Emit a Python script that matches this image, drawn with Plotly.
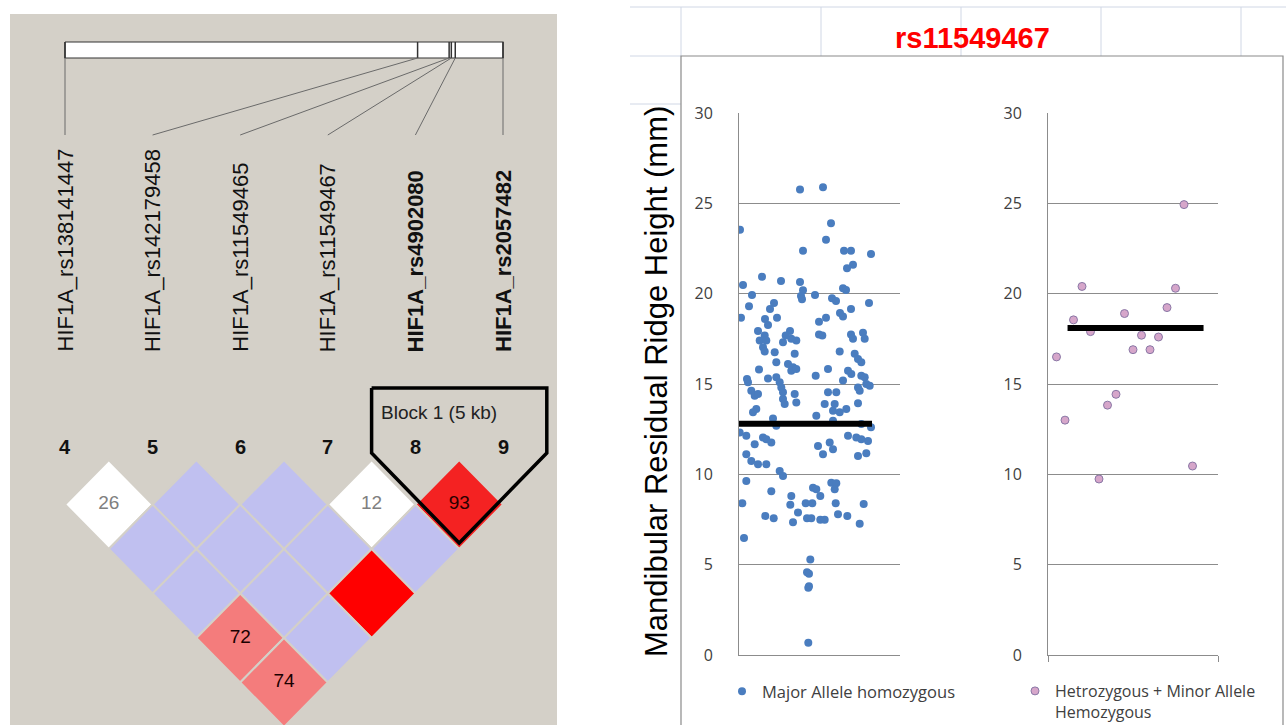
import plotly.graph_objects as go

# ---------------- DATA ----------------
# LD (Haploview) panel
snp_labels = ["HIF1A_rs138141447", "HIF1A_rs142179458", "HIF1A_rs11549465",
              "HIF1A_rs11549467", "HIF1A_rs4902080", "HIF1A_rs2057482"]
snp_numbers = ["4", "5", "6", "7", "8", "9"]
snp_bold = [False, False, False, False, True, True]
snp_bar_pos = [0.0, 0.805, 0.877, 0.882, 0.891, 1.0]   # relative physical position on the region bar
ld_i = [0, 1, 2, 3, 4, 0, 1, 2, 3, 0, 1, 2, 0, 1, 0]
ld_j = [1, 2, 3, 4, 5, 2, 3, 4, 5, 3, 4, 5, 4, 5, 5]
ld_text = ["26", "", "", "12", "93", "", "", "", "", "", "", "", "72", "", "74"]
ld_color = ["#ffffff", "#c0c0f0", "#c0c0f0", "#ffffff", "#f42222",
            "#c0c0f0", "#c0c0f0", "#c0c0f0", "#c0c0f0",
            "#c0c0f0", "#c0c0f0", "#ff0000",
            "#f47c7c", "#c0c0f0",
            "#f47c7c"]
ld_text_color = ["#808080", "#000", "#000", "#808080", "#2a0000", "#000", "#000", "#000",
                 "#000", "#000", "#000", "#000", "#1a0000", "#000", "#1a0000"]
block_markers = [4, 5]
block_label = "Block 1 (5 kb)"

# Scatter panel (rs11549467)
major_x = [61, 84, 92, 1, 87, 64, 105, 112, 132, 114, 108, 23, 4, 42, 61, 104, 107, 13, 64, 62,
           63, 76, 93, 97, 130, 10, 35, 31, 2, 26, 38, 101, 104, 112, 87, 80, 29, 19, 51, 80,
           112, 124,
           25.7, 20.7, 27.3, 24, 25.7, 44, 52.3, 57.3, 46.7, 83.3, 114, 125.7, 35.7, 37.3, 55.7,
           100.7, 115.7, 119, 122.3, 20, 29, 49, 54, 52.3, 57.3, 76.7, 89, 109, 112.3, 122.3,
           125.7, 8, 9, 12.3, 15.7, 19, 37.3, 40.7, 42.3, 44, 44, 45.7, 55.7, 57.3, 104, 119,
           120.7, 127.3, 130.7, 89, 97.3, 85.7, 95.7, 94, 100.7, 107.3, 119, 17.3, 14, 77.3, 34,
           0.7, 7.3, 15.7, 24, 27.3, 32.3, 109, 117.3, 122.3, 129, 79, 84, 90.7, 94, 7.3, 12.3,
           19, 27.3, 119, 127.3, 40.7, 44, 7.3, 32.3, 74, 77.3, 92.3, 97.3, 95.7,
           37.3, 122.3, 94, 132,
           3.3, 52.3, 51.3, 59, 81.3, 66.7, 73.3, 96.7, 124.7, 26.3, 34.7, 54, 68, 72.3, 81.3,
           85.7, 99, 108.3, 120.7, 5, 71.3, 68, 70, 70, 69.3, 69.3]
major_y = [25.76, 25.89, 23.9, 23.54, 22.98, 22.37, 22.37, 22.37, 22.19, 21.6, 21.4, 20.93, 20.48,
           20.7, 20.65, 20.3, 20.2, 19.93, 20.19, 19.87, 19.69, 19.93, 19.74, 19.6, 19.48, 19.3,
           19.48, 19.15, 18.67, 18.6, 18.67, 18.93, 18.74, 19.15, 18.67, 18.44, 18.26, 17.93,
           17.93, 17.74, 17.74, 17.83,
           17.69, 17.41, 17.41, 17.04, 16.8, 17.31, 17.5, 17.41, 17.69, 17.69, 17.5, 17.5, 16.76,
           16.2, 16.67, 16.8, 16.67, 16.39, 16.2, 15.8, 15.31, 16.11, 15.93, 15.74, 15.83, 15.46,
           15.83, 15.74, 15.56, 15.46, 15.37, 15.28, 15.09, 14.63, 14.35, 14.44, 15.37, 15.09,
           14.81, 14.54, 14.17, 13.89, 14.44, 13.98, 15.19, 14.81, 14.63, 15.0, 14.91, 14.54,
           14.54, 13.89, 13.89, 13.52, 13.43, 13.61, 13.94, 13.61, 13.43, 13.24, 13.09, 12.31,
           12.13, 11.67, 12.04, 11.94, 11.76, 12.13, 12.04, 11.94, 11.85, 11.57, 11.11, 11.76,
           11.39, 11.11, 10.74, 10.56, 10.56, 11.02, 11.17, 10.19, 9.91, 9.63, 9.07, 9.26, 9.17,
           9.54, 9.5, 9.17,
           12.69, 12.78, 12.96, 12.6,
           8.4, 8.8, 8.31, 7.89, 8.8, 8.4, 8.4, 8.4, 8.36, 7.7, 7.57, 7.35, 7.57, 7.57, 7.48,
           7.48, 7.79, 7.7, 7.26, 6.47, 5.28, 4.58, 4.5, 3.8, 3.72, 0.68]
major_line_x = [-2, 133]
major_mean = 12.8

minor_x = [1, 2, 3, 4, 5, 6, 7, 8, 9, 10, 11, 12, 13, 14, 15, 16, 17]
minor_y = [16.5, 13.0, 18.55, 20.4, 17.9, 9.74, 13.83, 14.43, 18.9, 16.9, 17.7, 16.9, 17.6,
           19.23, 20.3, 24.93, 10.46]
minor_line_x = [2.3, 18.3]
minor_mean = 18.1

y_ticks = [0, 5, 10, 15, 20, 25, 30]
chart_title = "rs11549467"
y_title = "Mandibular Residual Ridge Height (mm)"
major_name = "Major Allele homozygous"
minor_name = "Hetrozygous + Minor Allele<br>Hemozygous"

# ---------------- LAYOUT HELPERS ----------------
W, H = 1286, 725
def px(x):
    return x / W
def py(y):
    return 1 - y / H

BG = "#d4d0c8"
ARIAL = "Liberation Sans, Arial, sans-serif"
CAL = "Open Sans, sans-serif"

# LD panel axis mapping: x in marker index units, y in diamond-row units
LD_X0, LD_DX = 65.0, 87.6
LD_Y0, LD_DY = 460.0, 44.5
def ldx(p):
    return (p - LD_X0) / LD_DX
def ldy(p):
    return (p - LD_Y0) / LD_DY

fig = go.Figure()

# ---- LD diamonds ----
for i, j, col in zip(ld_i, ld_j, ld_color):
    c = (i + j) / 2
    r = j - i
    fig.add_trace(go.Scatter(
        x=[c - 0.5, c, c + 0.5, c, c - 0.5], y=[r, r - 1, r, r + 1, r],
        mode="lines", fill="toself", fillcolor=col,
        line=dict(color=BG, width=2), xaxis="x3", yaxis="y3",
        hoverinfo="skip", showlegend=False))

fig.add_trace(go.Scatter(
    x=[(i + j) / 2 for i, j in zip(ld_i, ld_j)],
    y=[j - i for i, j in zip(ld_i, ld_j)],
    text=ld_text, mode="text",
    textfont=dict(family=ARIAL, size=19, color=ld_text_color),
    xaxis="x3", yaxis="y3", hoverinfo="skip", showlegend=False))

# ---- region bar and connectors ----
n = len(snp_labels)
span = n - 1
bar_top, bar_bot = ldy(42), ldy(58)
fig.add_trace(go.Scatter(
    x=[0, span, span, 0, 0], y=[bar_top, bar_top, bar_bot, bar_bot, bar_top],
    mode="lines", fill="toself", fillcolor="#ffffff",
    line=dict(color="#333333", width=1.2), xaxis="x3", yaxis="y3",
    hoverinfo="skip", showlegend=False))
tx, ty = [], []
for p in snp_bar_pos:
    tx += [p * span, p * span, None]
    ty += [bar_top, bar_bot, None]
fig.add_trace(go.Scatter(x=tx, y=ty, mode="lines", line=dict(color="#333333", width=1.5),
                         xaxis="x3", yaxis="y3", hoverinfo="skip", showlegend=False))
cx, cy = [], []
for k, p in enumerate(snp_bar_pos):
    cx += [p * span, k, None]
    cy += [bar_bot, ldy(135), None]
fig.add_trace(go.Scatter(x=cx, y=cy, mode="lines", line=dict(color="#6a6a6a", width=1),
                         xaxis="x3", yaxis="y3", hoverinfo="skip", showlegend=False))

# ---- block outline ----
b0, b1 = block_markers[0], block_markers[-1]
top_y, side_y, bot_y = ldy(388), ldy(453), ldy(543)
fig.add_trace(go.Scatter(
    x=[b0 - 0.5, b1 + 0.5, b1 + 0.5, (b0 + b1) / 2, b0 - 0.5, b0 - 0.5],
    y=[top_y, top_y, side_y, bot_y, side_y, top_y],
    mode="lines", line=dict(color="#000000", width=3.5),
    xaxis="x3", yaxis="y3", hoverinfo="skip", showlegend=False))

annotations = []
for k, (lab, num, bold) in enumerate(zip(snp_labels, snp_numbers, snp_bold)):
    annotations.append(dict(
        x=k, y=ldy(354), xref="x3", yref="y3", text=f"<b>{lab}</b>" if bold else lab,
        textangle=-90, showarrow=False, xanchor="center", yanchor="bottom",
        font=dict(family=ARIAL, size=22, color="#111111")))
    annotations.append(dict(
        x=k, y=ldy(447), xref="x3", yref="y3", text=f"<b>{num}</b>",
        showarrow=False, xanchor="center", yanchor="middle",
        font=dict(family=ARIAL, size=20, color="#111111")))
annotations.append(dict(
    x=ldx(439), y=ldy(412), xref="x3", yref="y3", text=block_label, showarrow=False,
    xanchor="center", yanchor="middle", font=dict(family=ARIAL, size=19, color="#222222")))

# ---- scatter panels ----
fig.add_trace(go.Scatter(
    x=major_x, y=major_y, mode="markers", name=major_name,
    marker=dict(color="#4a7dbf", size=8), xaxis="x", yaxis="y", legend="legend"))
fig.add_trace(go.Scatter(
    x=major_line_x, y=[major_mean, major_mean], mode="lines",
    line=dict(color="#000000", width=6), xaxis="x", yaxis="y", showlegend=False))
fig.add_trace(go.Scatter(
    x=minor_x, y=minor_y, mode="markers", name=minor_name,
    marker=dict(color="#d6a6ca", size=8, line=dict(color="#8a78a6", width=1)),
    xaxis="x2", yaxis="y2", legend="legend2"))
fig.add_trace(go.Scatter(
    x=minor_line_x, y=[minor_mean, minor_mean], mode="lines",
    line=dict(color="#000000", width=6), xaxis="x2", yaxis="y2", showlegend=False))

annotations.append(dict(
    x=px(972), y=py(38), xref="paper", yref="paper", text=f"<b>{chart_title}</b>",
    showarrow=False, xanchor="center", yanchor="middle",
    font=dict(family=ARIAL, size=29, color="#ff0000")))
annotations.append(dict(
    x=px(656), y=py(382), xref="paper", yref="paper", text=y_title, textangle=-90,
    showarrow=False, xanchor="center", yanchor="middle",
    font=dict(family=ARIAL, size=31, color="#000000")))

# ---- background shapes ----
GRID = "#d0d7e5"
shapes = [
    dict(type="rect", xref="paper", yref="paper", x0=px(10), x1=px(557), y0=0, y1=py(14),
         fillcolor=BG, line=dict(width=0), layer="below"),
    dict(type="line", xref="paper", yref="paper", x0=px(630), x1=1, y0=py(7), y1=py(7),
         line=dict(color=GRID, width=1), layer="below"),
    dict(type="line", xref="paper", yref="paper", x0=px(630), x1=px(681), y0=py(56), y1=py(56),
         line=dict(color=GRID, width=1), layer="below"),
    dict(type="line", xref="paper", yref="paper", x0=px(630), x1=px(681), y0=py(104), y1=py(104),
         line=dict(color=GRID, width=1), layer="below"),
]
for vx in [681, 821, 961, 1101, 1241]:
    shapes.append(dict(type="line", xref="paper", yref="paper", x0=px(vx), x1=px(vx),
                       y0=py(7), y1=py(56), line=dict(color=GRID, width=1), layer="below"))
shapes.append(dict(type="rect", xref="paper", yref="paper", x0=px(681), x1=px(1283),
                   y0=-0.05, y1=py(56), fillcolor="rgba(0,0,0,0)",
                   line=dict(color="#8a8a8a", width=1.2), layer="below"))

axis_common = dict(showgrid=False, zeroline=False)
yax = dict(range=[0, 30], domain=[py(655), py(113)], tickvals=y_ticks, showgrid=True,
           gridcolor="#8c8c8c", gridwidth=1, zeroline=False, showline=True,
           linecolor="#8c8c8c", linewidth=1, ticks="", ticklabelstandoff=22,
           tickfont=dict(family=CAL, size=16, color="#404040"))

fig.update_layout(
    width=W, height=H, margin=dict(l=0, r=0, t=0, b=0, pad=0, autoexpand=False),
    paper_bgcolor="#ffffff", plot_bgcolor="rgba(0,0,0,0)",
    xaxis=dict(domain=[px(739), px(900)], range=[0, 161], showticklabels=False,
               showline=True, linecolor="#8c8c8c", linewidth=1, anchor="y", **axis_common),
    yaxis=dict(anchor="x", **yax),
    xaxis2=dict(domain=[px(1048), px(1218)], range=[0, 20], tickvals=[0, 20], ticks="outside",
                ticklen=6, tickcolor="#8c8c8c", showticklabels=False, showline=True,
                linecolor="#8c8c8c", linewidth=1, anchor="y2", **axis_common),
    yaxis2=dict(anchor="x2", **yax),
    xaxis3=dict(domain=[px(10), px(557)], range=[ldx(10), ldx(557)], visible=False,
                anchor="y3", fixedrange=True),
    yaxis3=dict(domain=[0, py(14)], range=[ldy(725), ldy(14)], visible=False,
                anchor="x3", fixedrange=True),
    legend=dict(x=px(722), y=py(674), xanchor="left", yanchor="top",
                bgcolor="rgba(0,0,0,0)", font=dict(family=CAL, size=16.5, color="#404040"),
                itemwidth=30),
    legend2=dict(x=px(1015), y=py(674), xanchor="left", yanchor="top", valign="top",
                 bgcolor="rgba(0,0,0,0)", font=dict(family=CAL, size=16, color="#404040"),
                 itemwidth=30),
    annotations=annotations, shapes=shapes, showlegend=True,
)

fig.write_html(
    "out.html",
    config={"displayModeBar": False},
    post_script="document.body.style.margin='0';document.body.style.padding='0';",
)
